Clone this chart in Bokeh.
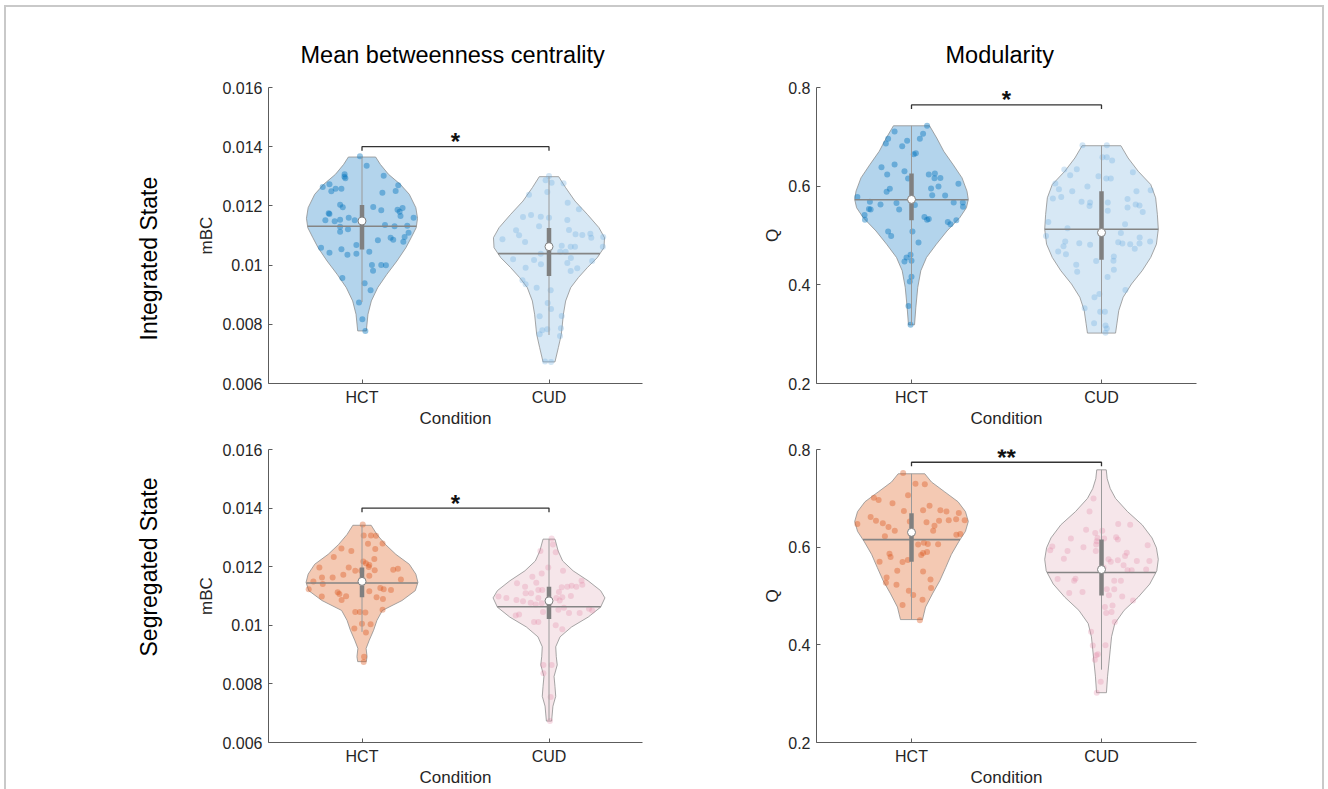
import numpy as np
from bokeh.plotting import figure
from bokeh.layouts import column, row
from bokeh.models import FixedTicker, CustomJSTickFormatter, Range1d, Title
from bokeh.embed import file_html
from bokeh.resources import INLINE
from bokeh.core.properties import value

# ---------------- labels ----------------
categories = ["HCT", "CUD"]
row_labels = ["Integrated State", "Segregated State"]
col_titles = ["Mean betweenness centrality", "Modularity"]
y_labels = ["mBC", "Q"]
x_label = "Condition"
mbc_ticks = [0.006, 0.008, 0.010, 0.012, 0.014, 0.016]
q_ticks = [0.2, 0.4, 0.6, 0.8]
mbc_range = [0.006, 0.016]
q_range = [0.2, 0.8]
sig_labels = ["*", "*", "*", "**"]
sig_levels = [0.0140, 0.7647, 0.0140, 0.7739]

# ---------------- Integrated state, mBC ----------------
int_mbc_hct_y = [0.013674, 0.013358, 0.013066, 0.012931, 0.012987, 0.013021, 0.012638, 0.012728, 0.012492, 0.012582,
                 0.012582, 0.012694, 0.012503, 0.012447, 0.012042, 0.011952, 0.011963, 0.01185, 0.011873, 0.011929,
                 0.011805, 0.011659, 0.011749, 0.011726, 0.011603, 0.011513, 0.011479, 0.011535, 0.011603, 0.011513,
                 0.011299, 0.011209, 0.011355, 0.01131, 0.011333, 0.01113, 0.011096, 0.010927, 0.01086, 0.01095,
                 0.010792, 0.010837, 0.01059, 0.010533, 0.01068, 0.010455, 0.010421, 0.010353, 0.010387, 0.010004,
                 0.010004, 0.009993, 0.009813, 0.009566, 0.009385, 0.009149, 0.008733, 0.00817, 0.007776]
int_mbc_hct_dx = [-0.011, 0.025, -0.093, -0.089, -0.094, 0.116, -0.210, -0.174, -0.164, -0.141,
                  -0.110, 0.194, 0.180, 0.109, -0.117, -0.103, 0.060, 0.103, 0.190, 0.217,
                  0.201, 0.206, -0.178, -0.174, 0.276, -0.196, -0.146, -0.117, -0.071, -0.039,
                  -0.117, -0.075, 0.123, 0.174, 0.242, -0.117, 0.249, 0.153, 0.167, 0.228,
                  0.221, 0.085, -0.219, -0.110, -0.030, 0.039, -0.174, -0.078, -0.030, 0.053,
                  0.103, 0.128, 0.059, -0.105, 0.014, 0.046, -0.016, 0.002, 0.018]
int_mbc_hct_shape_y = [0.013651, 0.013403, 0.013066, 0.012728, 0.012391, 0.011940, 0.011580, 0.011265,
                       0.010927, 0.010590, 0.010140, 0.009689, 0.009239, 0.008789, 0.008339, 0.007776]
int_mbc_hct_shape_w = [0.073, 0.098, 0.142, 0.205, 0.253, 0.288, 0.297, 0.290,
                       0.263, 0.235, 0.187, 0.133, 0.084, 0.050, 0.032, 0.023]
# whisker low, q1, median, q3, whisker high, mean
int_mbc_hct_stats = [0.00875, 0.01053, 0.01149, 0.01203, 0.01365, 0.01131]

int_mbc_cud_y = [0.01301, 0.012863, 0.012784, 0.012762, 0.012469, 0.012379, 0.012109, 0.011693, 0.011625, 0.011636,
                 0.011603, 0.011884, 0.011524, 0.011175, 0.01131, 0.011006, 0.010781, 0.010871, 0.011186, 0.01104,
                 0.011017, 0.011062, 0.010927, 0.01095, 0.010623, 0.010623, 0.010657, 0.010387, 0.010455, 0.010455,
                 0.010623, 0.010196, 0.010173, 0.010027, 0.010241, 0.010072, 0.01014, 0.009914, 0.009802, 0.009892,
                 0.009487, 0.009352, 0.009239, 0.009149, 0.008721, 0.008519, 0.008282, 0.008271, 0.007866, 0.007798,
                 0.007663, 0.007832, 0.007607, 0.00674, 0.006729]
int_mbc_cud_dx = [0.0, -0.018, 0.014, 0.078, -0.009, -0.107, 0.100, -0.096, -0.139, -0.044,
                  0.0, 0.160, 0.098, -0.176, -0.053, -0.160, -0.128, -0.249, 0.107, 0.142,
                  0.178, 0.221, 0.226, 0.290, 0.139, 0.116, 0.068, -0.044, 0.060, 0.089,
                  0.288, -0.192, -0.080, -0.043, 0.117, 0.098, 0.231, -0.125, 0.116, 0.151,
                  -0.142, -0.125, -0.066, 0.009, -0.007, 0.011, 0.068, -0.050, 0.064, -0.036,
                  -0.050, -0.009, 0.059, -0.021, 0.011]
int_mbc_cud_shape_y = [0.012987, 0.012616, 0.012165, 0.011715, 0.011265, 0.010927, 0.01059, 0.010252,
                       0.009914, 0.009577, 0.009239, 0.008789, 0.008339, 0.007663, 0.007213, 0.006729]
int_mbc_cud_shape_w = [0.052, 0.089, 0.139, 0.205, 0.267, 0.297, 0.294, 0.258,
                       0.205, 0.157, 0.116, 0.089, 0.077, 0.066, 0.050, 0.032]
int_mbc_cud_stats = [0.00764, 0.009633, 0.010624, 0.011254, 0.012987, 0.010387]

# ---------------- Integrated state, Q ----------------
int_q_hct_y = [0.7224, 0.7109, 0.7062, 0.6961, 0.6961, 0.6867, 0.6921, 0.6807, 0.6666, 0.6645,
               0.6437, 0.6383, 0.6235, 0.6303, 0.6155, 0.6235, 0.6255, 0.6161, 0.6168, 0.6047,
               0.5993, 0.5953, 0.5946, 0.5886, 0.5778, 0.5818, 0.5812, 0.5684, 0.563, 0.5657,
               0.5617, 0.5671, 0.5671, 0.5583, 0.5536, 0.5529, 0.5529, 0.5415, 0.5321, 0.5375,
               0.5321, 0.5334, 0.5274, 0.5227, 0.5308, 0.5079, 0.4992, 0.5079, 0.4857, 0.4608,
               0.4555, 0.4474, 0.4487, 0.4165, 0.407, 0.3573, 0.319]
int_q_hct_dx = [0.082, -0.089, 0.061, 0.044, -0.123, -0.135, -0.023, -0.049, 0.023, 0.012,
                -0.089, -0.158, -0.128, -0.037, -0.018, 0.091, 0.123, 0.121, 0.152, 0.247,
                0.142, 0.103, -0.114, -0.131, -0.285, 0.109, 0.177, -0.219, -0.163, -0.079,
                0.018, 0.222, 0.270, 0.271, -0.224, -0.215, -0.065, -0.247, -0.245, 0.068,
                0.082, 0.091, 0.191, 0.205, 0.236, -0.123, -0.107, 0.005, 0.037, -0.005,
                -0.026, -0.037, 0.0, 0.0, -0.009, -0.016, -0.005]
int_q_hct_shape_y = [0.7224, 0.6975, 0.6706, 0.6437, 0.6168, 0.5899, 0.5731, 0.5563,
                     0.5361, 0.5092, 0.4823, 0.4555, 0.4286, 0.3950, 0.3546, 0.3190]
int_q_hct_shape_w = [0.095, 0.133, 0.170, 0.219, 0.266, 0.292, 0.299, 0.289,
                     0.254, 0.187, 0.131, 0.079, 0.049, 0.033, 0.023, 0.016]
int_q_hct_stats = [0.3190, 0.5308, 0.5731, 0.6255, 0.7224, 0.5725]

int_q_cud_y = [0.6827, 0.6827, 0.6585, 0.6585, 0.6518, 0.6336, 0.6343, 0.6222, 0.6282, 0.6054,
               0.5993, 0.6202, 0.6155, 0.6155, 0.594, 0.5899, 0.5751, 0.5778, 0.5684, 0.5671,
               0.5597, 0.5671, 0.5503, 0.5738, 0.5899, 0.5919, 0.563, 0.557, 0.561, 0.5476,
               0.5274, 0.5146, 0.5227, 0.4992, 0.5052, 0.4877, 0.4783, 0.4676, 0.4622, 0.4844,
               0.4810, 0.4864, 0.4837, 0.4823, 0.4958, 0.4837, 0.4729, 0.4877, 0.4407, 0.4265,
               0.4481, 0.4575, 0.4487, 0.4306, 0.4158, 0.3896, 0.3815, 0.3748, 0.3526, 0.3452,
               0.3452, 0.3223, 0.3176, 0.3116, 0.3028]
int_q_cud_dx = [-0.100, 0.028, 0.005, 0.028, 0.056, -0.196, -0.130, -0.165, 0.165, -0.243,
                -0.074, -0.016, 0.025, 0.049, -0.224, -0.154, -0.256, -0.212, -0.105, -0.060,
                -0.063, 0.033, 0.033, 0.137, 0.184, 0.259, 0.180, 0.137, 0.200, 0.217,
                -0.280, -0.179, 0.124, -0.292, 0.102, -0.191, -0.200, -0.228, -0.187, -0.117,
                -0.060, 0.088, 0.110, 0.151, 0.201, 0.200, 0.175, 0.256, -0.133, -0.128,
                -0.028, 0.065, 0.063, 0.065, 0.032, 0.126, -0.011, -0.037, -0.089, -0.007,
                0.018, -0.039, 0.021, 0.028, 0.021]
int_q_cud_shape_y = [0.6820, 0.6571, 0.6303, 0.6034, 0.5765, 0.5429, 0.5126, 0.4823,
                     0.4555, 0.4286, 0.4017, 0.3748, 0.3479, 0.3210, 0.3022]
int_q_cud_shape_w = [0.102, 0.140, 0.193, 0.259, 0.285, 0.294, 0.299, 0.289,
                     0.259, 0.214, 0.158, 0.114, 0.091, 0.081, 0.074]
int_q_cud_stats = [0.3022, 0.4508, 0.5059, 0.5899, 0.6820, 0.5126]

# ---------------- Segregated state, mBC ----------------
seg_mbc_hct_y = [0.013437, 0.013065, 0.013065, 0.013053, 0.012783, 0.012603, 0.012794, 0.012535, 0.012625, 0.012332,
                 0.012265, 0.012175, 0.012118, 0.012062, 0.011972, 0.011972, 0.011859, 0.011859, 0.011994, 0.011882,
                 0.011893, 0.011927, 0.011724, 0.011634, 0.01169, 0.011566, 0.011499, 0.011634, 0.011408, 0.011273,
                 0.011228, 0.011206, 0.011228, 0.01098, 0.011127, 0.01107, 0.010991, 0.010867, 0.010958, 0.010901,
                 0.01116, 0.010451, 0.010451, 0.010439, 0.010529, 0.009887, 0.010056, 0.009752, 0.010034, 0.008929,
                 0.008749]
seg_mbc_hct_dx = [0.004, 0.009, 0.048, 0.075, 0.032, 0.071, 0.110, -0.057, -0.110, -0.151,
                  0.066, 0.007, 0.021, 0.039, -0.228, -0.071, -0.036, -0.004, 0.036, 0.068,
                  0.167, 0.192, -0.100, -0.157, 0.039, 0.208, -0.260, -0.214, -0.210, 0.098,
                  0.116, 0.155, -0.285, -0.215, -0.130, -0.121, -0.085, -0.109, 0.078, 0.112,
                  0.039, -0.036, -0.011, 0.018, 0.110, -0.041, 0.0, 0.021, 0.046, 0.011,
                  0.009]
seg_mbc_hct_shape_y = [0.013414, 0.013099, 0.012761, 0.012422, 0.012084, 0.011746, 0.011465, 0.011183,
                       0.010845, 0.010507, 0.010169, 0.009831, 0.009493, 0.009211, 0.008929, 0.00876]
seg_mbc_hct_shape_w = [0.049, 0.080, 0.125, 0.181, 0.253, 0.288, 0.299, 0.285,
                       0.214, 0.109, 0.080, 0.062, 0.039, 0.022, 0.027, 0.023]
seg_mbc_hct_stats = [0.009775, 0.010958, 0.011499, 0.011972, 0.013414, 0.011442]

seg_mbc_cud_y = [0.012963, 0.012761, 0.012535, 0.01249, 0.011972, 0.011769, 0.011859, 0.011656, 0.011453, 0.011431,
                 0.011318, 0.010935, 0.01098, 0.010867, 0.010822, 0.011093, 0.011093, 0.011206, 0.011206, 0.011296,
                 0.011138, 0.011318, 0.011352, 0.011318, 0.011386, 0.011521, 0.011003, 0.010958, 0.010845, 0.010935,
                 0.010766, 0.01071, 0.010935, 0.010755, 0.010372, 0.010338, 0.010113, 0.010113, 0.010000, 0.009865,
                 0.010417, 0.010417, 0.010507, 0.010563, 0.010597, 0.010529, 0.010451, 0.008648, 0.008648, 0.008366,
                 0.007555, 0.006732]
seg_mbc_cud_dx = [0.014, 0.021, -0.046, 0.036, -0.004, -0.039, 0.075, -0.089, -0.068, -0.171,
                  -0.128, -0.228, -0.270, -0.174, -0.139, -0.125, -0.096, -0.057, -0.036, 0.068,
                  0.053, 0.098, 0.121, 0.146, 0.178, 0.174, 0.117, 0.071, 0.057, 0.039,
                  -0.098, -0.071, -0.057, -0.039, -0.160, -0.178, -0.080, -0.057, 0.036, 0.071,
                  0.107, 0.164, 0.231, 0.214, 0.080, 0.050, -0.032, -0.030, 0.014, -0.030,
                  0.009, 0.005]
seg_mbc_cud_shape_y = [0.012941, 0.012535, 0.012197, 0.011859, 0.011521, 0.011183, 0.010935, 0.01062,
                       0.010282, 0.009944, 0.009605, 0.009267, 0.008929, 0.008648, 0.008253, 0.007915,
                       0.007577, 0.007239, 0.006732]
seg_mbc_cud_shape_w = [0.032, 0.049, 0.073, 0.129, 0.209, 0.276, 0.299, 0.276,
                       0.210, 0.121, 0.059, 0.036, 0.039, 0.044, 0.027, 0.032,
                       0.036, 0.021, 0.014]
seg_mbc_cud_stats = [0.00676, 0.010214, 0.010834, 0.011318, 0.012941, 0.010631]

# ---------------- Segregated state, Q ----------------
seg_q_hct_y = [0.7517, 0.7301, 0.7288, 0.7065, 0.7011, 0.6964, 0.6897, 0.6742, 0.6755, 0.6849,
               0.6755, 0.6728, 0.6701, 0.6620, 0.6539, 0.6492, 0.6411, 0.6337, 0.6472, 0.6222,
               0.6526, 0.6512, 0.6438, 0.6337, 0.6539, 0.6553, 0.6573, 0.6553, 0.6256, 0.6270,
               0.6088, 0.6067, 0.6054, 0.6061, 0.5865, 0.5798, 0.5697, 0.5737, 0.5838, 0.5879,
               0.5899, 0.5703, 0.5515, 0.5501, 0.5380, 0.5232, 0.5272, 0.5110, 0.5023, 0.5339,
               0.5164, 0.4921, 0.4814, 0.4503]
seg_q_hct_dx = [-0.044, 0.021, 0.070, -0.018, -0.198, -0.173, -0.100, -0.040, 0.061, 0.095,
                0.152, 0.184, 0.249, -0.215, -0.187, -0.151, -0.121, -0.088, -0.285, -0.140,
                -0.009, 0.079, 0.121, 0.114, 0.145, 0.196, 0.235, 0.280, 0.236, 0.257,
                0.065, 0.086, 0.035, 0.140, -0.116, -0.110, -0.047, -0.019, 0.051, 0.061,
                0.082, -0.168, -0.075, 0.061, -0.131, -0.079, -0.135, -0.014, 0.009, 0.100,
                0.103, 0.058, -0.047, 0.044]
seg_q_hct_shape_y = [0.7503, 0.7335, 0.7132, 0.6930, 0.6728, 0.6526, 0.6324, 0.6121,
                     0.5852, 0.5582, 0.5312, 0.5043, 0.4773, 0.4517]
seg_q_hct_shape_w = [0.070, 0.105, 0.175, 0.245, 0.284, 0.299, 0.284, 0.250,
                     0.210, 0.180, 0.149, 0.110, 0.074, 0.058]
seg_q_hct_stats = [0.4517, 0.5703, 0.6303, 0.6694, 0.7503, 0.6155]

seg_q_cud_y = [0.6998, 0.6728, 0.6357, 0.6290, 0.6337, 0.6189, 0.6121, 0.6175, 0.6202, 0.6155,
               0.6472, 0.6458, 0.6175, 0.6013, 0.5939, 0.5919, 0.5764, 0.6000, 0.5919, 0.6054,
               0.5885, 0.5818, 0.6040, 0.5717, 0.5751, 0.5703, 0.5730, 0.5629, 0.5528, 0.5528,
               0.5542, 0.5717, 0.5582, 0.5346, 0.5312, 0.5353, 0.5083, 0.5063, 0.5137, 0.5016,
               0.5137, 0.4807, 0.4773, 0.4989, 0.4908, 0.5312, 0.5312, 0.4672, 0.4652, 0.4470,
               0.4268, 0.3984, 0.3809, 0.3789, 0.3991, 0.3695, 0.3243, 0.3020]
seg_q_cud_dx = [-0.042, -0.063, -0.081, -0.033, 0.004, -0.021, -0.025, 0.014, 0.077, 0.086,
                0.088, 0.151, -0.161, -0.259, -0.270, -0.179, -0.198, -0.095, -0.030, -0.028,
                0.133, 0.124, 0.243, 0.186, 0.037, 0.049, 0.086, 0.116, 0.137, 0.159,
                0.235, 0.252, 0.011, -0.231, -0.144, -0.137, -0.100, -0.170, 0.028, 0.039,
                0.067, 0.058, 0.018, 0.109, 0.166, 0.102, 0.067, 0.053, 0.025, 0.070,
                -0.055, -0.046, -0.019, -0.028, 0.021, -0.035, -0.004, -0.025]
seg_q_cud_shape_y = [0.7584, 0.7402, 0.7200, 0.6998, 0.6728, 0.6458, 0.6189, 0.5987, 0.5751, 0.5515,
                     0.5245, 0.4975, 0.4706, 0.4436, 0.4166, 0.3897, 0.3627, 0.3358, 0.3020]
seg_q_cud_shape_w = [0.025, 0.030, 0.046, 0.074, 0.137, 0.214, 0.266, 0.289, 0.299, 0.291,
                     0.254, 0.193, 0.119, 0.070, 0.053, 0.046, 0.039, 0.032, 0.026]
seg_q_cud_stats = [0.3492, 0.5009, 0.5542, 0.6155, 0.7584, 0.5481]

# ---------------- styling ----------------
FONT = "Liberation Sans"
AX = "#5c5c5c"
TXT = "#262626"
fills = {"int_hct": "#b3d4ec", "int_cud": "#d7e8f5", "seg_hct": "#f4c9b3", "seg_cud": "#f6e6ea"}
dots = {"int_hct": ("#0072bd", 0.42), "int_cud": ("#68a8de", 0.30),
        "seg_hct": ("#d95319", 0.38), "seg_cud": ("#e282a1", 0.28)}


def base_fig(width, height, yr, ticks, ylabel, borders, title=None, title_offset=0):
    p = figure(width=width, height=height, x_range=Range1d(0.5, 2.5), y_range=Range1d(*yr),
               output_backend="svg", toolbar_location=None, title=title,
               min_border_left=borders[0], min_border_right=borders[1],
               min_border_top=borders[2], min_border_bottom=borders[3],
               border_fill_color=None, outline_line_color=None)
    if title is not None:
        p.title.align = "left"
        p.title.offset = title_offset
        p.title.text_font = FONT
        p.title.text_font_size = "23.5px"
        p.title.text_font_style = "normal"
        p.title.text_color = "#000000"
        p.title.standoff = 40
    p.xgrid.visible = False
    p.ygrid.visible = False
    for ax in (p.xaxis[0], p.yaxis[0]):
        ax.axis_line_color = AX
        ax.axis_line_width = 1
        ax.major_tick_line_color = AX
        ax.major_tick_in = 4
        ax.major_tick_out = 0
        ax.minor_tick_line_color = None
        ax.major_label_text_font = FONT
        ax.major_label_text_font_size = "16px"
        ax.major_label_text_color = TXT
        ax.axis_label_text_font = FONT
        ax.axis_label_text_font_size = "17px"
        ax.axis_label_text_font_style = "normal"
        ax.axis_label_text_color = TXT
    xa = p.xaxis[0]
    xa.ticker = FixedTicker(ticks=[1, 2])
    xa.major_label_overrides = {1: categories[0], 2: categories[1]}
    xa.axis_label = x_label
    xa.major_label_standoff = 5
    xa.axis_label_standoff = 0
    ya = p.yaxis[0]
    ya.ticker = FixedTicker(ticks=ticks)
    ya.formatter = CustomJSTickFormatter(code="return String(Math.round(tick*1000)/1000);")
    ya.axis_label = ylabel
    ya.major_label_standoff = 6
    ya.axis_label_standoff = 3
    return p


def draw_violin(p, xc, sy, sw, py, pdx, stats, key):
    xs = [xc + w for w in sw] + [xc - w for w in sw[::-1]]
    ys = list(sy) + list(sy[::-1])
    p.patch(xs, ys, fill_color=fills[key], fill_alpha=1.0, line_color="#8f8f8f", line_width=0.8)
    col, alpha = dots[key]
    p.scatter(x=[xc + d for d in pdx], y=py, size=6, fill_color=col, fill_alpha=alpha, line_color=None)
    lo, q1, med, q3, hi, mean = stats
    p.segment(x0=[xc], y0=[lo], x1=[xc], y1=[hi], line_color="#9a9a9a", line_width=1)
    hwm = float(np.interp(mean, sy[::-1], sw[::-1]))
    p.segment(x0=[xc - hwm], y0=[mean], x1=[xc + hwm], y1=[mean], line_color="#858585", line_width=1.6)
    p.segment(x0=[xc], y0=[q1], x1=[xc], y1=[q3], line_color="#808080", line_width=4.5)
    p.scatter(x=[xc], y=[med], size=8, fill_color="white", line_color="#808080", line_width=1)


def draw_bracket(p, yb, yr, label):
    t = 0.014 * (yr[1] - yr[0])
    p.line([1, 1, 2, 2], [yb - t, yb, yb, yb - t], line_color="#333333", line_width=1.3)
    p.text(x=[1.5], y=[yb], text=[label], text_align="center", text_baseline="alphabetic",
           y_offset=-5, text_font=value(FONT), text_font_size="24px", text_font_style="bold",
           text_color="#111111")


def row_title(p, text, offset):
    p.add_layout(Title(text=text, align="left", text_font=FONT, text_font_size="23px",
                       text_font_style="normal", text_color="#000000", standoff=66, offset=offset), "left")


p1 = base_fig(682, 433, mbc_range, mbc_ticks, y_labels[0], (268, 40, 87, 50), title=col_titles[0], title_offset=32)
p2 = base_fig(646, 433, q_range, q_ticks, y_labels[1], (134, 132, 87, 50), title=col_titles[1], title_offset=129)
p3 = base_fig(682, 356, mbc_range, mbc_ticks, y_labels[0], (268, 40, 16, 45))
p4 = base_fig(646, 356, q_range, q_ticks, y_labels[1], (134, 132, 16, 45))

row_title(p1, row_labels[0], 43)
row_title(p3, row_labels[1], 86)

draw_violin(p1, 1, int_mbc_hct_shape_y, int_mbc_hct_shape_w, int_mbc_hct_y, int_mbc_hct_dx, int_mbc_hct_stats, "int_hct")
draw_violin(p1, 2, int_mbc_cud_shape_y, int_mbc_cud_shape_w, int_mbc_cud_y, int_mbc_cud_dx, int_mbc_cud_stats, "int_cud")
draw_violin(p2, 1, int_q_hct_shape_y, int_q_hct_shape_w, int_q_hct_y, int_q_hct_dx, int_q_hct_stats, "int_hct")
draw_violin(p2, 2, int_q_cud_shape_y, int_q_cud_shape_w, int_q_cud_y, int_q_cud_dx, int_q_cud_stats, "int_cud")
draw_violin(p3, 1, seg_mbc_hct_shape_y, seg_mbc_hct_shape_w, seg_mbc_hct_y, seg_mbc_hct_dx, seg_mbc_hct_stats, "seg_hct")
draw_violin(p3, 2, seg_mbc_cud_shape_y, seg_mbc_cud_shape_w, seg_mbc_cud_y, seg_mbc_cud_dx, seg_mbc_cud_stats, "seg_cud")
draw_violin(p4, 1, seg_q_hct_shape_y, seg_q_hct_shape_w, seg_q_hct_y, seg_q_hct_dx, seg_q_hct_stats, "seg_hct")
draw_violin(p4, 2, seg_q_cud_shape_y, seg_q_cud_shape_w, seg_q_cud_y, seg_q_cud_dx, seg_q_cud_stats, "seg_cud")

for p, lvl, lab, yr in zip([p1, p2, p3, p4], sig_levels, sig_labels, [mbc_range, q_range, mbc_range, q_range]):
    draw_bracket(p, lvl, yr, lab)

frame_bg = ("linear-gradient(#c9c9c9,#c9c9c9) 4px 5px / 2px 790px no-repeat, "
            "linear-gradient(#c9c9c9,#c9c9c9) 4px 5px / 1320px 2px no-repeat, "
            "linear-gradient(#c9c9c9,#c9c9c9) 1322px 5px / 2px 790px no-repeat, #ffffff")
layout = column(row(p1, p2), row(p3, p4), styles={"background": frame_bg})

open("out.html", "w").write(file_html(layout, INLINE))
